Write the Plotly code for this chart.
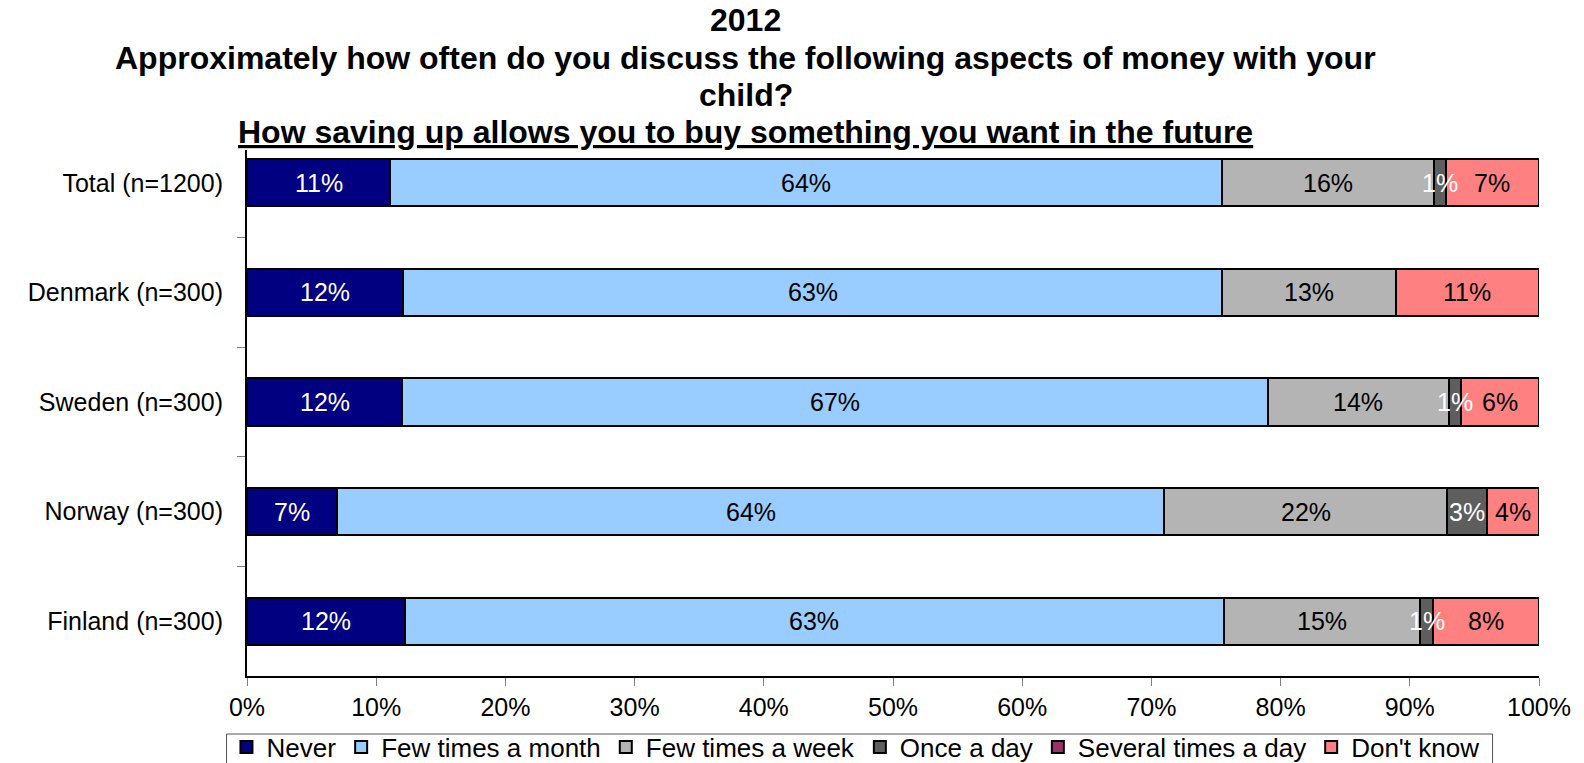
import plotly.graph_objects as go

categories = ["Total (n=1200)", "Denmark (n=300)", "Sweden (n=300)", "Norway (n=300)", "Finland (n=300)"]
series_names = ["Never", "Few times a month", "Few times a week", "Once a day", "Several times a day", "Don't know"]

never = [11.1, 12.1, 12.0, 7.0, 12.2]
few_month = [64.4, 63.4, 67.0, 64.0, 63.4]
few_week = [16.4, 13.4, 14.0, 21.9, 15.2]
once_day = [0.9, 0.0, 1.0, 3.1, 1.0]
several_day = [0.0, 0.0, 0.0, 0.0, 0.0]
dont_know = [7.2, 11.1, 6.0, 4.0, 8.2]

x_ticks = [0, 10, 20, 30, 40, 50, 60, 70, 80, 90, 100]
x_tick_labels = ["0%", "10%", "20%", "30%", "40%", "50%", "60%", "70%", "80%", "90%", "100%"]

title_lines = [
    "<b>2012</b>",
    "<b>Approximately how often do you discuss the following aspects of money with your</b>",
    "<b>child?</b>",
    "<b><span style='text-decoration:underline'>How saving up allows you to buy something you want in the future</span></b>",
]

series_values = [never, few_month, few_week, once_day, several_day, dont_know]
colors = ["#000080", "#99CCFF", "#B4B4B4", "#5E5E5E", "#993366", "#FF8080"]
text_colors = ["white", "black", "black", "white", "white", "black"]

fig = go.Figure()
for name, vals, col in zip(series_names, series_values, colors):
    fig.add_trace(go.Bar(
        y=categories, x=vals, name=name, orientation="h",
        marker=dict(color=col, line=dict(color="black", width=2)),
        hoverinfo="skip",
    ))

# value labels centred on each segment (drawn on top of all bars)
starts = [0.0] * len(categories)
for vals, tcol in zip(series_values, text_colors):
    for i, (cat, v) in enumerate(zip(categories, vals)):
        if v >= 0.5:
            fig.add_annotation(
                x=starts[i] + v / 2, y=cat, xref="x", yref="y",
                text=f"{v:.0f}%", showarrow=False, xanchor="center", yanchor="middle",
                font=dict(family="Liberation Sans, Arial", size=25, color=tcol),
            )
        starts[i] += v

# plot area: left 246.5, right 1539.5, top 150, bottom 676 (pixels)
plot_l, plot_w, plot_b, plot_h = 246.5, 1293.0, 676.0, 526.0
title_centers_px = [20.5, 58.0, 95.0, 132.0]
for txt, ypx in zip(title_lines, title_centers_px):
    fig.add_annotation(
        text=txt, xref="paper", yref="paper",
        x=(745.5 - plot_l) / plot_w, y=(plot_b - ypx) / plot_h,
        xanchor="center", yanchor="middle", showarrow=False,
        font=dict(family="Liberation Sans, Arial", size=32, color="black"),
    )

# legend frame
fig.add_shape(type="rect", xref="paper", yref="paper",
              x0=(226 - plot_l) / plot_w, x1=(1493 - plot_l) / plot_w,
              y0=(plot_b - 734) / plot_h, y1=(plot_b - 775) / plot_h,
              line=dict(color="#555555", width=1), fillcolor="rgba(0,0,0,0)", layer="above")

fig.update_layout(
    barmode="stack",
    bargap=0.57,
    width=1584, height=763,
    paper_bgcolor="white", plot_bgcolor="white",
    font=dict(family="Liberation Sans, Arial", size=25, color="black"),
    margin=dict(l=246.5, r=44.5, t=150, b=87, autoexpand=False),
    legend=dict(orientation="h", x=-0.0159, xanchor="left", y=-0.0905, yanchor="top",
                bgcolor="rgba(0,0,0,0)", borderwidth=0, traceorder="normal",
                font=dict(family="Liberation Sans, Arial", size=26, color="black"),
                itemwidth=30, tracegroupgap=0),
    showlegend=True,
)
fig.update_xaxes(range=[0, 100], tickvals=x_ticks, ticktext=x_tick_labels,
                 showgrid=False, zeroline=False, showline=True, linecolor="black", linewidth=2,
                 ticks="outside", ticklen=8, tickcolor="#808080", tickwidth=1,
                 tickfont=dict(size=25))
fig.update_yaxes(type="category", categoryorder="array", categoryarray=categories,
                 range=[4.5, -0.3], showgrid=False, zeroline=False,
                 showline=True, linecolor="black", linewidth=2,
                 ticks="outside", tickson="boundaries", ticklen=8, tickcolor="#808080", tickwidth=1,
                 ticklabelstandoff=17, tickfont=dict(size=25))

fig.write_html("out.html")
